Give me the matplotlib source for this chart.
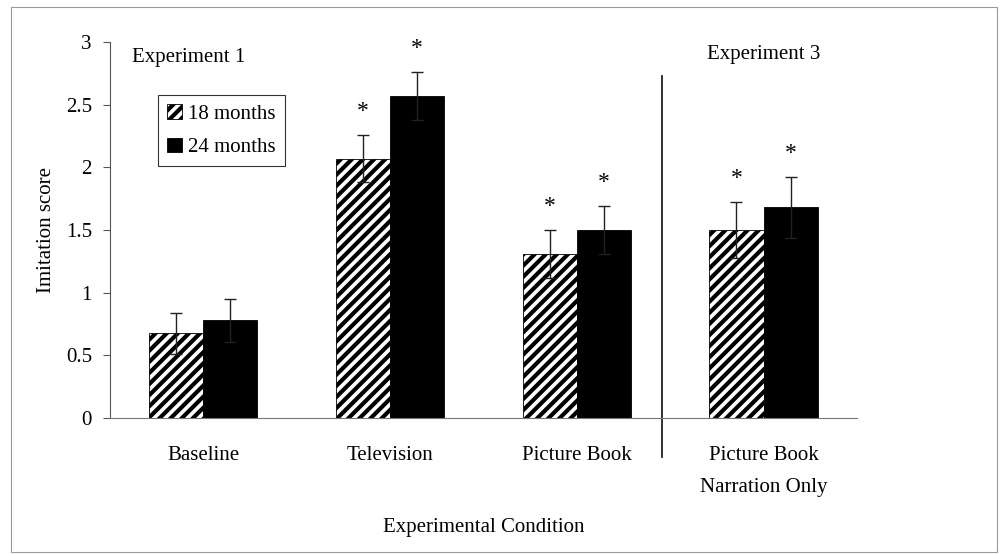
import matplotlib.pyplot as plt
import matplotlib.patches as mpatches
import numpy as np

plt.rcParams["font.family"] = ["Liberation Serif", "DejaVu Serif"]
plt.rcParams["font.size"] = 15
plt.rcParams["hatch.linewidth"] = 3.0

categories = ["Baseline", "Television", "Picture Book", "Picture Book\nNarration Only"]
series = ["18 months", "24 months"]
means_18 = [0.675, 2.07, 1.31, 1.50]
means_24 = [0.78, 2.57, 1.50, 1.68]
err_18 = [0.165, 0.185, 0.19, 0.22]
err_24 = [0.17, 0.19, 0.19, 0.24]
sig_18 = [False, True, True, True]
sig_24 = [False, True, True, True]
yticks = [0, 0.5, 1, 1.5, 2, 2.5, 3]

fig = plt.figure(figsize=(10.06, 5.54), dpi=100)
ax = fig.add_axes([0.1093, 0.2455, 0.7425, 0.6787])

# outer frame around the whole picture
fig.patches.append(mpatches.Rectangle((11 / 1006, 2 / 554), 986 / 1006, 545 / 554,
                                      transform=fig.transFigure, fill=False,
                                      edgecolor="#9a9a9a", linewidth=0.8))

x = np.arange(len(categories))
w = 0.29
ekw = dict(ecolor="#222222", elinewidth=1.0, capsize=4, capthick=1.0)
ax.bar(x - w / 2, means_18, w, facecolor="white", edgecolor="black",
       hatch="///", linewidth=0.6, yerr=err_18, error_kw=ekw, label=series[0])
ax.bar(x + w / 2, means_24, w, facecolor="black", edgecolor="black",
       linewidth=0.6, yerr=err_24, error_kw=ekw, label=series[1])

for i in range(len(categories)):
    if sig_18[i]:
        ax.text(x[i] - w / 2, means_18[i] + err_18[i] + 0.19, "*",
                ha="center", va="center", fontsize=17)
    if sig_24[i]:
        ax.text(x[i] + w / 2, means_24[i] + err_24[i] + 0.19, "*",
                ha="center", va="center", fontsize=17)

ax.set_xlim(-0.5, 3.5)
ax.set_ylim(0, 3)
ax.set_yticks(yticks)
ax.set_yticklabels([f"{t:g}" for t in yticks])
ax.set_xticks(x)
ax.set_xticklabels(categories, linespacing=1.95)
ax.tick_params(axis="x", length=0, pad=20)
ax.tick_params(axis="y", direction="out", length=5, width=0.8, color="#555555", pad=8)

for side in ["top", "right"]:
    ax.spines[side].set_visible(False)
ax.spines["left"].set_color("#555555")
ax.spines["left"].set_linewidth(0.8)
ax.spines["bottom"].set_color("#777777")
ax.spines["bottom"].set_linewidth(0.8)

# separator between experiments
ax.axvline(2.455, ymin=-0.104, ymax=0.91, color="#222222", linewidth=1.3, clip_on=False)

ax.text(0.03, 0.96, "Experiment 1", transform=ax.transAxes, ha="left", va="center")
ax.text(3.0, 0.968, "Experiment 3", transform=ax.get_xaxis_transform(), ha="center", va="center")

ax.set_ylabel("Imitation score", labelpad=7)
ax.set_xlabel("Experimental Condition", labelpad=15)

leg = ax.legend(loc="upper left", bbox_to_anchor=(0.064, 0.859), frameon=True,
                fancybox=False, edgecolor="black", handlelength=0.7, handleheight=0.7,
                handletextpad=0.3, borderpad=0.45, labelspacing=0.65, fontsize=15,
                borderaxespad=0)
leg.get_frame().set_linewidth(0.8)

fig.savefig("out.png", dpi=100, facecolor="white")
